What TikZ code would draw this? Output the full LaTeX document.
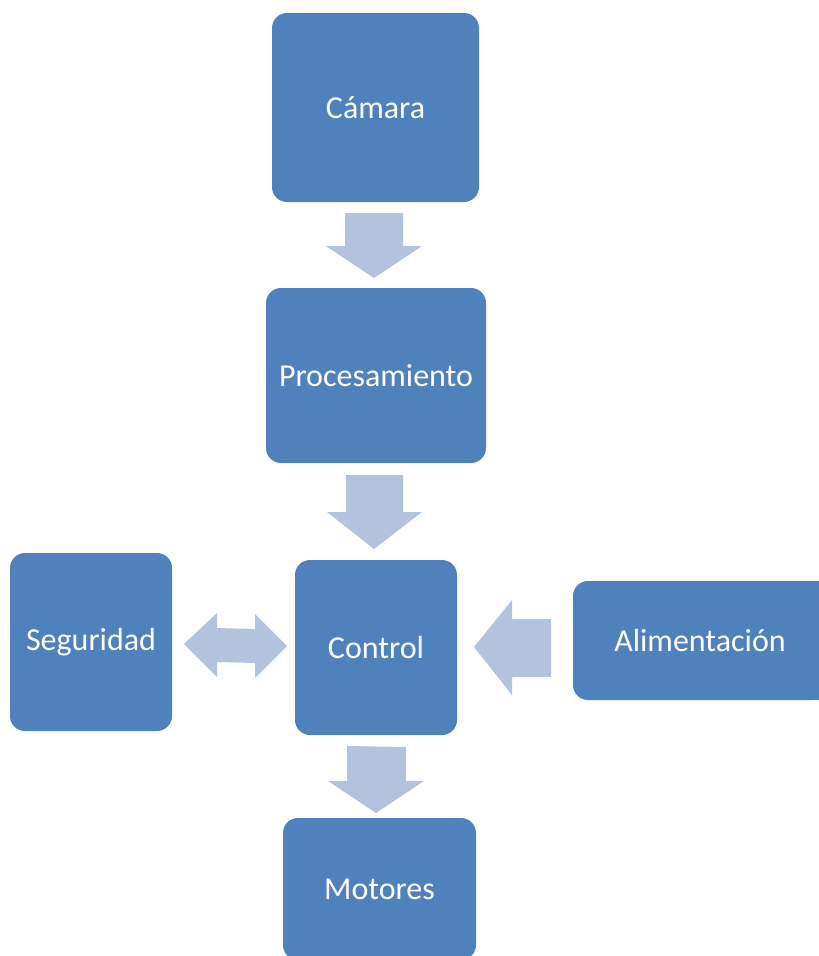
\documentclass[tikz,border=0pt]{standalone}
\usepackage{fontspec}
\setmainfont{Carlito}
\definecolor{boxblue}{HTML}{4F81BD}
\definecolor{arrowblue}{HTML}{B3C3DD}
\begin{document}
\begin{tikzpicture}[x=1pt,y=-1pt,
  blk/.style={rectangle,rounded corners=15pt,fill=boxblue,draw=none,inner sep=0pt,
    text=white,font=\fontsize{32}{38}\selectfont},
  blockarrow/.style={fill=arrowblue,draw=none}]
\useasboundingbox (0,0) rectangle (819,956);
\clip (0,0) rectangle (819,956);
\node[blk,minimum width=207pt,minimum height=189pt] (cam) at (375.5,107.5) {Cámara};
\node[blk,minimum width=220pt,minimum height=175pt] (proc) at (376,375.5) {Procesamiento};
\node[blk,minimum width=162pt,minimum height=178pt] (seg) at (91,642) {Seguridad};
\node[blk,minimum width=162pt,minimum height=175pt] (ctrl) at (376,647.5) {Control};
\node[blk,minimum width=254pt,minimum height=119pt] (alim) at (700,640.5) {Alimentación};
\fill[boxblue] ([xshift=-20pt]alim.north east) rectangle (alim.south east);
\node[blk,minimum width=193pt,minimum height=142pt] (mot) at (379.5,889) {Motores};
% Cámara -> Procesamiento
\fill[blockarrow] (345,213) -- (403,213) -- (403,246) -- (422,246) -- (374,278) -- (326,246) -- (345,246) -- cycle;
% Procesamiento -> Control
\fill[blockarrow] (346,475) -- (403,475) -- (403,512) -- (422,512) -- (374,549) -- (327,512) -- (346,512) -- cycle;
% Control -> Motores
\fill[blockarrow] (347,746) -- (406,747) -- (406,781) -- (424,781) -- (376,813) -- (328,781) -- (347,781) -- cycle;
% Seguridad <-> Control
\fill[blockarrow] (184,644) -- (217,613) -- (217,628) -- (255,629) -- (255,614) -- (287,646) -- (255,678) -- (255,663) -- (217,662) -- (217,677) -- cycle;
% Alimentación -> Control
\fill[blockarrow] (474,647) -- (512,600) -- (512,619) -- (551,619) -- (551,677) -- (512,677) -- (512,695) -- cycle;
\end{tikzpicture}
\end{document}
